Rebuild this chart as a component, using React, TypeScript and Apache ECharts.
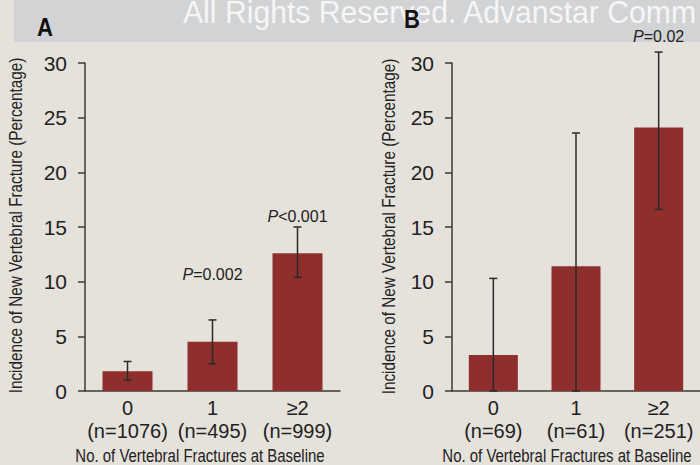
import { useEffect, useRef } from 'react';
import * as echarts from 'echarts';

// ---- data ----
const groupLabels = ['0', '1', '≥2'];
const sampleSizesA = [1076, 495, 999];
const sampleSizesB = [69, 61, 251];
const incidenceA = [1.8, 4.5, 12.6];
const ciLowA = [1.0, 2.5, 10.4];
const ciHighA = [2.7, 6.5, 15.0];
const incidenceB = [3.3, 11.4, 24.1];
const ciLowB = [0, 0, 16.6];
const ciHighB = [10.3, 23.6, 31.0];
const pLabelsA = ['', 'P=0.002', 'P<0.001'];
const pLabelYA = [0, 10.7, 16.0];
const pLabelsB = ['', '', 'P=0.02'];
const pLabelYB = [0, 0, 32.4];
const yMin = 0;
const yMax = 30;
const yStep = 5;
const yAxisTitle = 'Incidence of New Vertebral Fracture (Percentage)';
const xAxisTitle = 'No. of Vertebral Fractures at Baseline';
const watermark = 'All Rights Reserved. Advanstar Comm';

const BAR = '#8e2f2e';
const INK = '#222222';
const AXIS = '#3a3a3a';
const SANS = '"Liberation Sans", Arial, sans-serif';

const cats = (ns: number[]) => groupLabels.map((g, i) => `${g}\n(n=${ns[i]})`);

const errorRender = (_params: any, api: any) => {
  const i = api.value(0);
  const lo = api.value(1);
  const hi = api.value(2);
  const pLo = api.coord([i, lo]);
  const pHi = api.coord([i, hi]);
  const w = 4;
  const style = { stroke: '#2a2a2a', lineWidth: 1.5 };
  return {
    type: 'group',
    children: [
      { type: 'line', shape: { x1: pLo[0], y1: pLo[1], x2: pHi[0], y2: pHi[1] }, style },
      { type: 'line', shape: { x1: pHi[0] - w, y1: pHi[1], x2: pHi[0] + w, y2: pHi[1] }, style },
      { type: 'line', shape: { x1: pLo[0] - w, y1: pLo[1], x2: pLo[0] + w, y2: pLo[1] }, style },
    ],
  };
};

const pRender = (labels: string[]) => (params: any, api: any) => {
  const txt = labels[params.dataIndex];
  if (!txt) return null;
  const p = api.coord([api.value(0), api.value(1)]);
  return {
    type: 'text',
    x: p[0],
    y: p[1],
    style: {
      text: `{i|${txt.slice(0, 1)}}{r|${txt.slice(1)}}`,
      align: 'center',
      verticalAlign: 'middle',
      rich: {
        i: { fontStyle: 'italic', fontSize: 16, fontFamily: SANS, fill: INK },
        r: { fontSize: 16, fontFamily: SANS, fill: INK },
      },
    },
  };
};

const yAxisBase = (gridIndex: number) => ({
  type: 'value',
  gridIndex,
  min: yMin,
  max: yMax,
  interval: yStep,
  axisLine: { show: true, lineStyle: { color: AXIS, width: 1.5 } },
  axisTick: { show: true, length: 7, lineStyle: { color: AXIS, width: 1.5 } },
  axisLabel: { fontFamily: SANS, fontSize: 21, color: INK, margin: 18, padding: [8, 0, 0, 0] },
  splitLine: { show: false },
});

const xAxisBase = (gridIndex: number, ns: number[]) => ({
  type: 'category',
  gridIndex,
  data: cats(ns),
  axisLine: { show: true, lineStyle: { color: AXIS, width: 1.5 } },
  axisTick: { show: false },
  axisLabel: { fontFamily: SANS, fontSize: 20, color: INK, lineHeight: 23, margin: 5, interval: 0 },
});

const narrowText = (text: string, x: number, y: number, fontSize: number, scaleX: number, extra: any = {}) => ({
  type: 'text',
  z: 10,
  x,
  y,
  scaleX,
  ...extra,
  style: { text, fontFamily: SANS, fontSize, fill: INK, align: 'center', verticalAlign: 'middle', ...(extra.style || {}) },
});

export default function App() {
  const ref = useRef<HTMLDivElement>(null);
  useEffect(() => {
    document.body.style.margin = '0';
    if (!ref.current) return;
    const chart = echarts.init(ref.current, undefined, { renderer: 'svg' });
    const errA = groupLabels.map((_, i) => [i, ciLowA[i], ciHighA[i]]);
    const errB = groupLabels.map((_, i) => [i, ciLowB[i], ciHighB[i]]);
    const pA = groupLabels.map((_, i) => [i, pLabelYA[i]]);
    const pB = groupLabels.map((_, i) => [i, pLabelYB[i]]);
    chart.setOption({
      animation: false,
      backgroundColor: '#e5e1db',
      grid: [
        { left: 85, top: 63, width: 255, height: 328 },
        { left: 452, top: 63, width: 252, height: 328 },
      ],
      xAxis: [xAxisBase(0, sampleSizesA), xAxisBase(1, sampleSizesB)],
      yAxis: [yAxisBase(0), yAxisBase(1)],
      graphic: [
        { type: 'rect', z: 0, shape: { x: 14, y: 0, width: 700, height: 42 }, style: { fill: '#d1d3d5' } },
        {
          type: 'text', z: 1, x: 183, y: 12.5, scaleX: 0.943,
          style: { text: watermark, fontFamily: SANS, fontSize: 32, fill: '#f6f6f6', align: 'left', verticalAlign: 'middle' },
        },
        {
          type: 'text', z: 10, x: 37, y: 27, scaleX: 0.85,
          style: { text: 'A', fontFamily: SANS, fontWeight: 'bold', fontSize: 26, fill: '#111', align: 'left', verticalAlign: 'middle' },
        },
        {
          type: 'text', z: 10, x: 404, y: 19, scaleX: 0.85,
          style: { text: 'B', fontFamily: SANS, fontWeight: 'bold', fontSize: 26, fill: '#111', align: 'left', verticalAlign: 'middle' },
        },
        narrowText(xAxisTitle, 200, 456, 17.5, 0.855),
        narrowText(xAxisTitle, 567, 456, 17.5, 0.855),
        narrowText(yAxisTitle, 16.5, 225.5, 18.5, 0.825, { rotation: Math.PI / 2 }),
        narrowText(yAxisTitle, 389, 226.5, 18.5, 0.825, { rotation: Math.PI / 2 }),
      ],
      series: [
        { type: 'bar', xAxisIndex: 0, yAxisIndex: 0, data: incidenceA, barWidth: 50, itemStyle: { color: BAR }, z: 2 },
        { type: 'bar', xAxisIndex: 1, yAxisIndex: 1, data: incidenceB, barWidth: 49, itemStyle: { color: BAR }, z: 2 },
        { type: 'custom', xAxisIndex: 0, yAxisIndex: 0, data: errA, encode: { x: 0, y: [1, 2] }, renderItem: errorRender, z: 5, clip: false },
        { type: 'custom', xAxisIndex: 1, yAxisIndex: 1, data: errB, encode: { x: 0, y: [1, 2] }, renderItem: errorRender, z: 5, clip: false },
        { type: 'custom', xAxisIndex: 0, yAxisIndex: 0, data: pA, encode: { x: 0, y: 1 }, renderItem: pRender(pLabelsA), z: 6, clip: false },
        { type: 'custom', xAxisIndex: 1, yAxisIndex: 1, data: pB, encode: { x: 0, y: 1 }, renderItem: pRender(pLabelsB), z: 6, clip: false },
      ],
    });
    return () => chart.dispose();
  }, []);
  return <div ref={ref} style={{ width: 700, height: 465 }} />;
}
